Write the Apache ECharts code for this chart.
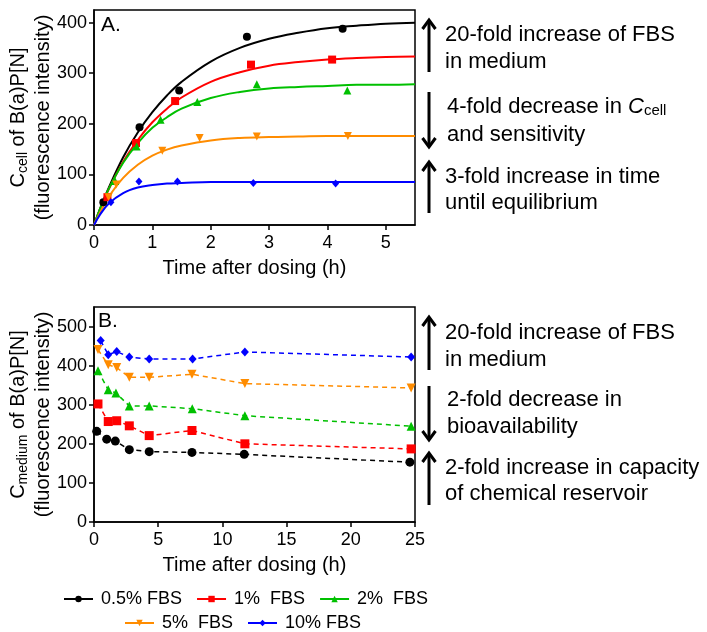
<!DOCTYPE html>
<html><head><meta charset="utf-8">
<script src="https://cdn.jsdelivr.net/npm/echarts@6/dist/echarts.min.js"></script>
<style>html,body{margin:0;padding:0;background:#fff}#c{width:707px;height:632px}</style>
</head><body><div id="c"></div>
<script>
const FONT = '"Liberation Sans", Arial, sans-serif';
const seriesNames = ['0.5% FBS', '1%  FBS', '2%  FBS', '5%  FBS', '10% FBS'];
const seriesColors = ['#000000', '#ff0000', '#00c000', '#ff8c00', '#0000ff'];
const seriesSymbols = ['circle', 'rect', 'triangle', 'path://M0,0 L10,0 L5,9 Z', 'diamond'];

// Panel A: measured points (time h, Ccell)
const cellT05 = [0.16, 0.78, 1.46, 2.62, 4.26];
const cellV05 = [45, 193, 266, 372, 388];
const cellT1 = [0.23, 0.72, 1.39, 2.69, 4.08];
const cellV1 = [55, 162, 245, 317, 327];
const cellT2 = [0.36, 0.73, 1.14, 1.77, 2.79, 4.34];
const cellV2 = [87, 155, 208, 243, 278, 266];
const cellT5 = [0.25, 0.38, 1.17, 1.81, 2.79, 4.35];
const cellV5 = [55, 80, 147, 172, 175, 176];
const cellT10 = [0.29, 0.77, 1.43, 2.73, 4.14];
const cellV10 = [45, 86, 86, 83, 82];

// Panel A: fitted curves
const fitT = [0, 0.1, 0.25, 0.5, 0.75, 1, 1.25, 1.5, 2, 2.5, 3, 3.5, 4, 4.5, 5, 5.5];
const fitV05 = [0, 31, 73, 134, 183, 223, 256, 283, 323, 350, 368, 380, 389, 394, 398, 400];
const fitV1 = [0, 30, 70, 125, 168, 203, 230, 252, 283, 302, 315, 322, 327, 330, 332, 333];
const fitV2 = [0, 31, 71, 123, 162, 192, 213, 230, 251, 263, 270, 273, 275, 277, 277, 278];
const fitV5 = [0, 24, 55, 93, 119, 137, 149, 157, 167, 172, 174, 175, 176, 176, 176, 176];
const fitV10 = [0, 20, 42, 63, 74, 79, 82, 83, 85, 85, 85, 85, 85, 85, 85, 85];

// Panel B: Cmedium (time h, value)
const medT05 = [0.21, 0.99, 1.66, 2.75, 4.3, 7.63, 11.7, 24.6];
const medV05 = [232, 212, 207, 185, 180, 178, 173, 153];
const medT1 = [0.31, 1.11, 1.77, 2.75, 4.3, 7.63, 11.75, 24.7];
const medV1 = [302, 257, 259, 246, 221, 234, 200, 187];
const medT2 = [0.31, 1.11, 1.71, 2.75, 4.3, 7.65, 11.75, 24.7];
const medV2 = [387, 338, 330, 297, 297, 290, 272, 245];
const medT5 = [0.31, 1.11, 1.77, 2.75, 4.3, 7.63, 11.75, 24.7];
const medV5 = [441, 402, 395, 370, 370, 378, 354, 343];
const medT10 = [0.52, 1.11, 1.77, 2.75, 4.3, 7.68, 11.75, 24.7];
const medV10 = [464, 428, 436, 422, 417, 417, 435, 422];

const xTicksA = [0, 1, 2, 3, 4, 5];
const yTicksA = [0, 100, 200, 300, 400];
const xTicksB = [0, 5, 10, 15, 20, 25];
const yTicksB = [0, 100, 200, 300, 400, 500];

const zip = (t, v) => t.map((x, i) => [x, v[i]]);
const cellT = [cellT05, cellT1, cellT2, cellT5, cellT10];
const cellV = [cellV05, cellV1, cellV2, cellV5, cellV10];
const fitV = [fitV05, fitV1, fitV2, fitV5, fitV10];
const medT = [medT05, medT1, medT2, medT5, medT10];
const medV = [medV05, medV1, medV2, medV5, medV10];

const axisCommon = {
  type: 'value',
  splitLine: { show: false },
  axisLine: { show: true, onZero: false, lineStyle: { color: '#000', width: 1.5 } },
  axisTick: { show: true, inside: false, length: 5, lineStyle: { color: '#000', width: 1.5 } },
  axisLabel: { color: '#000', fontSize: 18, fontFamily: FONT, margin: 7 }
};
const nameRich = {
  b: { fontSize: 20, fontFamily: FONT, color: '#000', lineHeight: 25 },
  s: { fontSize: 14, fontFamily: FONT, color: '#000', lineHeight: 25, verticalAlign: 'bottom' }
};

function xAxisDef(gi, max, interval, ticks) {
  return Object.assign({}, axisCommon, {
    gridIndex: gi, min: 0, max: max, interval: interval,
    name: 'Time after dosing (h)', nameLocation: 'middle', nameGap: 33,
    nameTextStyle: { fontSize: 20, fontFamily: FONT, color: '#000' },
    axisTick: Object.assign({}, axisCommon.axisTick, { customValues: ticks }),
    axisLabel: Object.assign({}, axisCommon.axisLabel, { margin: 9, customValues: ticks,
      formatter: v => (ticks.indexOf(v) >= 0 ? String(v) : '') })
  });
}
function yAxisDef(gi, max, interval, ticks, sub) {
  return Object.assign({}, axisCommon, {
    gridIndex: gi, min: 0, max: max, interval: interval,
    name: '{b|C}{s|' + sub + '}{b| of B(a)P[N]}\n{b|(fluorescence intensity)}',
    nameLocation: 'middle', nameGap: 32, nameRotate: 90,
    nameTextStyle: { rich: nameRich },
    axisTick: Object.assign({}, axisCommon.axisTick, { customValues: ticks }),
    axisLabel: Object.assign({}, axisCommon.axisLabel, { customValues: ticks,
      formatter: v => (ticks.indexOf(v) >= 0 ? String(v) : '') })
  });
}

const series = [];
// Panel A fitted curves (carry legend icons)
for (let i = 0; i < 5; i++) {
  series.push({
    name: seriesNames[i], type: 'line', xAxisIndex: 0, yAxisIndex: 0,
    data: zip(fitT, fitV[i]), smooth: 0.4,
    symbol: seriesSymbols[i], symbolSize: 8, showSymbol: false,
    lineStyle: { color: seriesColors[i], width: 2 }, itemStyle: { color: seriesColors[i] },
    z: 2, silent: true
  });
}
// Panel A measured markers
for (let i = 0; i < 5; i++) {
  series.push({
    name: 'A-' + seriesNames[i], type: 'scatter', xAxisIndex: 0, yAxisIndex: 0,
    data: zip(cellT[i], cellV[i]), symbol: seriesSymbols[i],
    symbolSize: i === 4 ? [7, 8] : 8, itemStyle: { color: seriesColors[i], opacity: 1 }, z: 3
  });
}
// Panel B dashed lines with markers
for (let i = 0; i < 5; i++) {
  series.push({
    name: 'B-' + seriesNames[i], type: 'line', xAxisIndex: 1, yAxisIndex: 1,
    data: zip(medT[i], medV[i]), symbol: seriesSymbols[i],
    symbolSize: i === 4 ? [8, 9] : 9, showSymbol: true,
    lineStyle: { color: seriesColors[i], width: 1.5, type: [5, 4] },
    itemStyle: { color: seriesColors[i], opacity: 1 }, z: 3
  });
}

function arrow(x, yTail, yTip) {
  const d = yTip < yTail ? 1 : -1;
  return [
    { type: 'polyline', shape: { points: [[x, yTail], [x, yTip + d * 1]] },
      style: { stroke: '#000', lineWidth: 3, fill: null } },
    { type: 'polyline', shape: { points: [[x - 6.5, yTip + d * 9], [x, yTip], [x + 6.5, yTip + d * 9]] },
      style: { stroke: '#000', lineWidth: 3, fill: null, lineJoin: 'miter' } }
  ];
}
function label(x, y, text, rich) {
  return { type: 'text', x: x, y: y,
    style: { text: text, fontSize: 22, fontFamily: FONT, fill: '#000',
      verticalAlign: 'middle', align: 'left', rich: rich || undefined } };
}
const annRich = {
  i: { fontSize: 22, fontFamily: FONT, fontStyle: 'italic', fill: '#000' },
  s: { fontSize: 15, fontFamily: FONT, fill: '#000', padding: [8, 0, 0, 0] }
};

const graphics = [].concat(
  arrow(429, 72, 20), arrow(429, 92, 147), arrow(429, 213, 162),
  arrow(429, 370, 317), arrow(429, 386, 440), arrow(429, 505, 453),
  [
    label(445, 35, '20-fold increase of FBS'),
    label(445, 62, 'in medium'),
    label(447, 107, '4-fold decrease in {i|C}{s|cell}', annRich),
    label(447, 135, 'and sensitivity'),
    label(445, 177, '3-fold increase in time'),
    label(445, 203, 'until equilibrium'),
    label(445, 333, '20-fold increase of FBS'),
    label(445, 360, 'in medium'),
    label(447, 400, '2-fold decrease in'),
    label(447, 427, 'bioavailability'),
    label(445, 468, '2-fold increase in capacity'),
    label(445, 494, 'of chemical reservoir'),
    { type: 'text', x: 101, y: 25, style: { text: 'A.', fontSize: 21, fontFamily: FONT, fill: '#000', verticalAlign: 'middle' } },
    { type: 'text', x: 98, y: 321, style: { text: 'B.', fontSize: 21, fontFamily: FONT, fill: '#000', verticalAlign: 'middle' } }
  ]
);

const legendCommon = {
  itemWidth: 29, itemHeight: 8, itemGap: 14, orient: 'horizontal', padding: 0,
  textStyle: { fontSize: 18, fontFamily: FONT, color: '#000', padding: [0, 0, 0, 3] },
  selectedMode: false
};

const option = {
  animation: false,
  backgroundColor: '#fff',
  grid: [
    { left: 94, top: 10, width: 321, height: 215, show: true, borderColor: '#000', borderWidth: 1.5, outerBoundsMode: 'none' },
    { left: 94, top: 307, width: 321, height: 215, show: true, borderColor: '#000', borderWidth: 1.5, outerBoundsMode: 'none' }
  ],
  xAxis: [xAxisDef(0, 5.5, 1, xTicksA), xAxisDef(1, 25, 5, xTicksB)],
  yAxis: [yAxisDef(0, 425, 100, yTicksA, 'cell'), yAxisDef(1, 550, 100, yTicksB, 'medium')],
  legend: [
    Object.assign({}, legendCommon, { data: seriesNames.slice(0, 3), left: 63, top: 590 }),
    Object.assign({}, legendCommon, { data: seriesNames.slice(3), left: 124, top: 614 })
  ],
  series: series,
  graphic: graphics
};
const chart = echarts.init(document.getElementById('c'), null, { renderer: 'canvas' });
chart.setOption(option);
</script>
</body></html>
